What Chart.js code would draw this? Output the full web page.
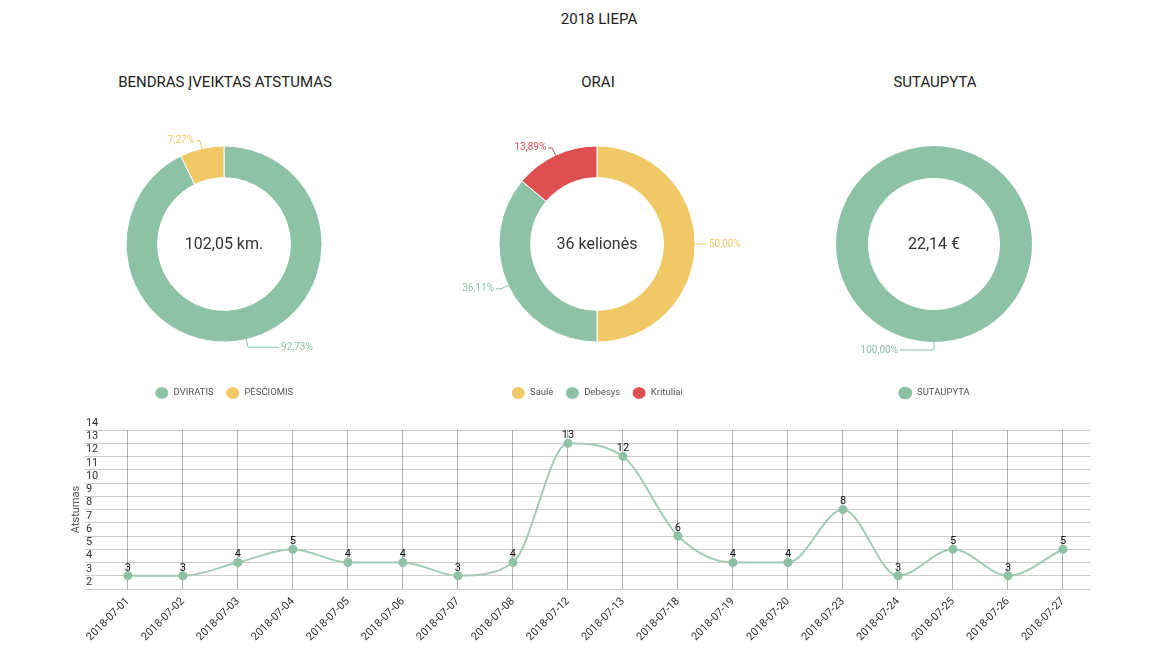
<!DOCTYPE html>
<html>
<head>
<meta charset="utf-8">
<script src="https://cdn.jsdelivr.net/npm/chart.js@4.4.1/dist/chart.umd.min.js"></script>
<style>
  html, body { margin:0; padding:0; background:#fff; }
  body { width:1170px; height:657px; position:relative; overflow:hidden; font-family: Roboto, "Noto Sans", sans-serif; }
  .txt { position:absolute; text-align:center; color:#333; white-space:nowrap; }
  .main { font-size:15px; line-height:20px; color:#222; }
  .sub { font-size:15px; line-height:20px; color:#222; }
  .center { font-size:16px; line-height:20px; color:#333; }
  canvas { position:absolute; }
</style>
</head>
<body>
<div class="txt main" style="left:499px;top:9px;width:200px;">2018 LIEPA</div>

<div class="txt sub" style="left:75px;top:72px;width:300px;">BENDRAS ĮVEIKTAS ATSTUMAS</div>
<div class="txt sub" style="left:448px;top:72px;width:300px;">ORAI</div>
<div class="txt sub" style="left:785px;top:72px;width:300px;">SUTAUPYTA</div>

<div style="position:absolute;left:39px;top:100px;width:370px;height:310px;"><canvas id="d1"></canvas></div>
<div style="position:absolute;left:412px;top:100px;width:370px;height:310px;"><canvas id="d2"></canvas></div>
<div style="position:absolute;left:749px;top:100px;width:370px;height:310px;"><canvas id="d3"></canvas></div>

<div class="txt center" style="left:124px;top:234px;width:200px;">102,05 km.</div>
<div class="txt center" style="left:497px;top:234px;width:200px;">36 kelionės</div>
<div class="txt center" style="left:834px;top:234px;width:200px;">22,14 €</div>

<div style="position:absolute;left:0;top:405px;width:1170px;height:252px;"><canvas id="line"></canvas></div>

<script>
// ---- data ----
const distLabels = ['DVIRATIS', 'PĖSČIOMIS'];
const distValues = [94.63, 7.42];
const weatherLabels = ['Saulė', 'Debesys', 'Krituliai'];
const weatherValues = [18, 13, 5];
const savedLabels = ['SUTAUPYTA'];
const savedValues = [22.14];

const dates = ['2018-07-01','2018-07-02','2018-07-03','2018-07-04','2018-07-05','2018-07-06',
  '2018-07-07','2018-07-08','2018-07-12','2018-07-13','2018-07-18','2018-07-19','2018-07-20',
  '2018-07-23','2018-07-24','2018-07-25','2018-07-26','2018-07-27'];
const distance = [3,3,4,5,4,4,3,4,13,12,6,4,4,8,3,5,3,5];
const yMin = 2, yMax = 14, yStep = 1;
const yTitle = 'Atstumas';

// ---- colours ----
const GREEN = '#8dc2a6', YELLOW = '#f0c966', RED = '#de4f52';

Chart.defaults.font.family = 'Roboto, "Noto Sans", sans-serif';
Chart.defaults.animation = false;

const pctLabels = {
  id: 'pctLabels',
  afterDatasetsDraw(chart) {
    const ctx = chart.ctx;
    const ds = chart.data.datasets[0];
    const meta = chart.getDatasetMeta(0);
    const total = ds.data.reduce((a, b) => a + b, 0);
    ctx.save();
    ctx.font = '10px Roboto, sans-serif';
    ctx.textBaseline = 'middle';
    ctx.lineWidth = 1;
    meta.data.forEach((arc, i) => {
      const mid = (arc.startAngle + arc.endAngle) / 2;
      const R = arc.outerRadius;
      const c = Math.cos(mid), s = Math.sin(mid);
      const px = arc.x + c * R, py = arc.y + s * R;
      const qx = arc.x + c * (R + 8), qy = arc.y + s * (R + 8);
      const right = c > 1e-6;
      const ext = 4 + 30 * Math.pow(Math.max(0, s), 4);
      const ex = qx + (right ? ext : -ext);
      const col = ds.backgroundColor[i];
      ctx.strokeStyle = col;
      ctx.beginPath();
      ctx.moveTo(px, py); ctx.lineTo(qx, qy); ctx.lineTo(ex, qy);
      ctx.stroke();
      ctx.fillStyle = col;
      ctx.textAlign = right ? 'left' : 'right';
      const txt = (ds.data[i] / total * 100).toFixed(2).replace('.', ',') + '%';
      ctx.fillText(txt, ex + (right ? 2 : -2), qy);
    });
    ctx.restore();
  }
};

function donut(id, labels, values, colors, bw) {
  return new Chart(document.getElementById(id), {
    type: 'doughnut',
    data: { labels: labels, datasets: [{ data: values, backgroundColor: colors,
      borderColor: '#fff', borderWidth: bw, hoverOffset: 0 }] },
    options: {
      responsive: true, maintainAspectRatio: false,
      radius: 98, cutout: 66,
      layout: { padding: { top: 11.75, left: 87, right: 87, bottom: 2.25 } },
      plugins: {
        tooltip: { enabled: false },
        legend: {
          position: 'bottom',
          labels: { usePointStyle: true, pointStyle: 'circle', boxHeight: 9, pointStyleWidth: 14,
            padding: 12, color: '#555', font: { size: 9.5 } }
        }
      }
    },
    plugins: [pctLabels]
  });
}

donut('d1', distLabels, distValues, [GREEN, YELLOW], 1);
donut('d2', weatherLabels, weatherValues, [YELLOW, GREEN, RED], 1);
donut('d3', savedLabels, savedValues, [GREEN], 0);

const valueLabels = {
  id: 'valueLabels',
  afterDatasetsDraw(chart) {
    const ctx = chart.ctx;
    ctx.save();
    ctx.font = '11px Roboto, sans-serif';
    ctx.fillStyle = '#111';
    ctx.textAlign = 'center';
    ctx.textBaseline = 'middle';
    chart.data.datasets.forEach((ds, i) => {
      chart.getDatasetMeta(i).data.forEach((pt, j) => {
        ctx.fillText(String(ds.data[j]), pt.x, pt.y - 8);
      });
    });
    ctx.restore();
  }
};

new Chart(document.getElementById('line'), {
  type: 'line',
  data: {
    labels: dates,
    datasets: [{
      data: distance,
      borderColor: '#a3ccb6',
      borderWidth: 2,
      cubicInterpolationMode: 'monotone',
      pointRadius: 3.5,
      pointBackgroundColor: '#8fc1a6',
      pointBorderColor: '#8fc1a6',
      fill: false
    }]
  },
  options: {
    responsive: true, maintainAspectRatio: false,
    layout: { padding: { top: 25, left: 65.4, right: 79.5, bottom: 0 } },
    plugins: { legend: { display: false }, tooltip: { enabled: false } },
    scales: {
      x: {
        offset: true,
        grid: { offset: false, color: 'rgba(0,0,0,0.3)', drawTicks: false },
        border: { display: false },
        ticks: { autoSkip: false, minRotation: 45, maxRotation: 45, padding: 6, color: '#333', font: { size: 11 } },
        afterFit(s) { s.height = 68; }
      },
      y: {
        min: yMin, max: yMax,
        grid: { color: 'rgba(0,0,0,0.2)', tickLength: 16 },
        border: { display: false },
        ticks: { stepSize: yStep, autoSkip: false, mirror: true, padding: -14.5, labelOffset: -7,
          color: '#333', font: { size: 11 } },
        title: { display: true, text: yTitle, color: '#555', font: { size: 11 } },
        afterFit(s) { s.width = 35; }
      }
    }
  },
  plugins: [valueLabels]
});
</script>
</body>
</html>
